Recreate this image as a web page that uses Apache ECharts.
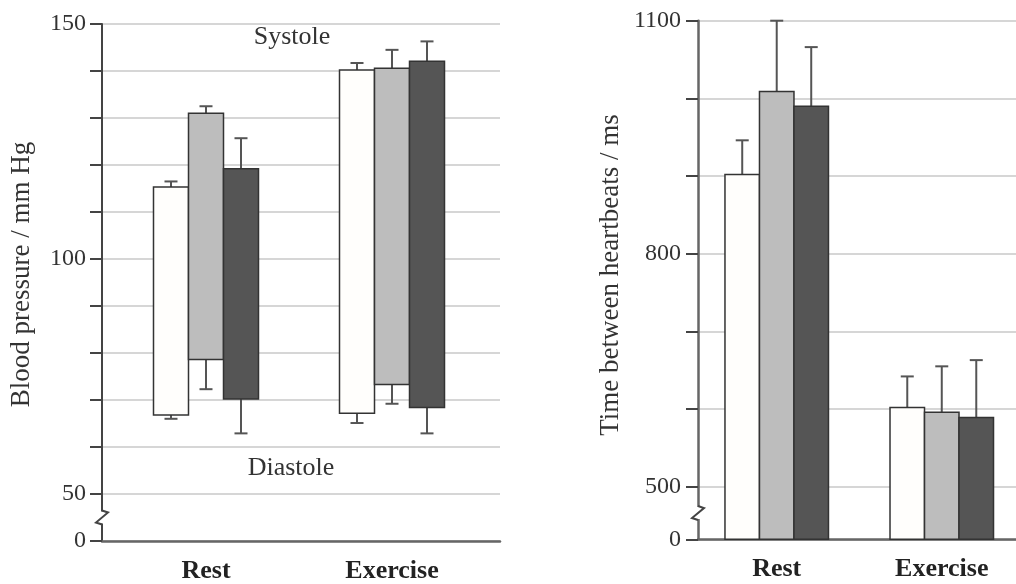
<!DOCTYPE html>
<html>
<head>
<meta charset="utf-8">
<script src="https://cdn.jsdelivr.net/npm/echarts@6/dist/echarts.min.js"></script>
<style>
html,body{margin:0;padding:0;background:#fff;}
#c{width:1016px;height:584px;}
</style>
</head>
<body>
<div id="c"></div>
<script>
// ---------- data ----------
const categories = ['Rest', 'Exercise'];
const groupColors = ['#fffefc', '#bdbdbd', '#555555'];

// Blood pressure (mm Hg): systole / diastole means and error sizes, per group, per category
const sysWhite = [115.3, 140.2];
const sysGray  = [131.0, 140.6];
const sysDark  = [119.2, 142.1];
const sysErrWhite = [1.2, 1.5];
const sysErrGray  = [1.5, 3.9];
const sysErrDark  = [6.5, 4.2];
const diaWhite = [66.8, 67.2];
const diaGray  = [78.6, 73.3];
const diaDark  = [70.2, 68.4];
const diaErrWhite = [0.8, 2.1];
const diaErrGray  = [6.3, 4.1];
const diaErrDark  = [7.3, 5.5];

// Time between heartbeats (ms)
const rrWhite = [902, 602];
const rrGray  = [1009, 596];
const rrDark  = [990, 589];
const rrErrWhite = [44, 40];
const rrErrGray  = [91, 59];
const rrErrDark  = [76, 74];

// axis tick labels
const bpTickValues = [40, 50, 100, 150];
const bpTickLabels = ['0', '50', '100', '150'];
const rrTickValues = [432.3, 500, 800, 1100];
const rrTickLabels = ['0', '500', '800', '1100'];
const rrTickMarks = [432.3, 500, 600, 700, 800, 900, 1000, 1100];

// ---------- layout constants ----------
const FONT = 'Liberation Serif';
const BP_MIN = 40, BP_MAX = 150;
const RR_MIN = 432.3, RR_MAX = 1100;
const BW_L = 35, BW_R = 34.5, CAP = 13;

function bpData(sys, sysE, dia, diaE) {
  return categories.map((c, i) => [i, dia[i], sys[i], dia[i] - diaE[i], sys[i] + sysE[i]]);
}
function rrData(v, e) {
  return categories.map((c, i) => [i, v[i], v[i] + e[i]]);
}

function bpRender(k) {
  return function (params, api) {
    const ci = api.value(0);
    const top = api.coord([ci, api.value(2)]);
    const bot = api.coord([ci, api.value(1)]);
    const eLo = api.coord([ci, api.value(3)]);
    const eHi = api.coord([ci, api.value(4)]);
    const cx = top[0] + (k - 1) * BW_L;
    const es = { stroke: '#555', lineWidth: 2 };
    return {
      type: 'group',
      children: [
        { type: 'line', shape: { x1: cx, y1: top[1], x2: cx, y2: eHi[1] }, style: es },
        { type: 'line', shape: { x1: cx - CAP / 2, y1: eHi[1], x2: cx + CAP / 2, y2: eHi[1] }, style: es },
        { type: 'line', shape: { x1: cx, y1: bot[1], x2: cx, y2: eLo[1] }, style: es },
        { type: 'line', shape: { x1: cx - CAP / 2, y1: eLo[1], x2: cx + CAP / 2, y2: eLo[1] }, style: es },
        { type: 'rect', shape: { x: cx - BW_L / 2, y: top[1], width: BW_L, height: bot[1] - top[1] },
          style: { fill: groupColors[k], stroke: '#333', lineWidth: 1.5 } }
      ]
    };
  };
}
function rrRender(k) {
  return function (params, api) {
    const ci = api.value(0);
    const top = api.coord([ci, api.value(1)]);
    const bot = api.coord([ci, RR_MIN]);
    const eHi = api.coord([ci, api.value(2)]);
    const cx = top[0] + (k - 1) * BW_R;
    const es = { stroke: '#555', lineWidth: 2 };
    return {
      type: 'group',
      children: [
        { type: 'line', shape: { x1: cx, y1: top[1], x2: cx, y2: eHi[1] }, style: es },
        { type: 'line', shape: { x1: cx - CAP / 2, y1: eHi[1], x2: cx + CAP / 2, y2: eHi[1] }, style: es },
        { type: 'rect', shape: { x: cx - BW_R / 2, y: top[1], width: BW_R, height: bot[1] - top[1] },
          style: { fill: groupColors[k], stroke: '#333', lineWidth: 1.5 } }
      ]
    };
  };
}

const chart = echarts.init(document.getElementById('c'), null, { renderer: 'canvas' });

const axisText = { color: '#333', fontFamily: FONT, fontSize: 24 };
const catText = { color: '#222', fontFamily: FONT, fontSize: 26, fontWeight: 'bold' };

const option = {
  animation: false,
  backgroundColor: '#fff',
  grid: [
    { left: 102, top: 24, width: 398, height: 517, outerBoundsMode: 'none', containLabel: false },
    { left: 698, top: 20.7, width: 318, height: 518.6, outerBoundsMode: 'none', containLabel: false }
  ],
  xAxis: [
    {
      gridIndex: 0, type: 'value', min: -0.5591, max: 1.5806,
      axisLine: { show: true, onZero: false, lineStyle: { color: '#666', width: 2.5 } },
      axisTick: { show: false }, splitLine: { show: false },
      axisLabel: { ...catText, margin: 17, customValues: [0, 1], formatter: v => categories[Math.round(v)] }
    },
    {
      gridIndex: 1, type: 'value', min: -0.477, max: 1.4498,
      axisLine: { show: true, onZero: false, lineStyle: { color: '#666', width: 2.5 } },
      axisTick: { show: false }, splitLine: { show: false },
      axisLabel: { ...catText, margin: 17, customValues: [0, 1], formatter: v => categories[Math.round(v)] }
    }
  ],
  yAxis: [
    {
      gridIndex: 0, type: 'value', min: BP_MIN, max: BP_MAX, interval: 10,
      name: 'Blood pressure / mm Hg', nameLocation: 'middle', nameGap: 67,
      nameTextStyle: { color: '#333', fontFamily: FONT, fontSize: 27, padding: [0, 0, 0, 16] },
      axisLine: { show: true, onZero: false, lineStyle: { color: '#444', width: 2 } },
      axisTick: { show: true, length: 12, lineStyle: { color: '#444', width: 2 } },
      splitLine: { show: true, lineStyle: { color: '#d6d6d6', width: 2 } },
      axisLabel: { ...axisText, margin: 16, customValues: bpTickValues,
        formatter: v => bpTickLabels[bpTickValues.indexOf(v)] }
    },
    {
      gridIndex: 1, type: 'value', min: RR_MIN, max: RR_MAX,
      name: 'Time between heartbeats / ms', nameLocation: 'middle', nameGap: 74,
      nameTextStyle: { color: '#333', fontFamily: FONT, fontSize: 27, padding: [0, 0, 0, 10] },
      axisLine: { show: true, onZero: false, lineStyle: { color: '#666', width: 2.5 } },
      axisTick: { show: true, length: 12, customValues: rrTickMarks, lineStyle: { color: '#444', width: 2 } },
      splitLine: { show: true, lineStyle: { color: '#d6d6d6', width: 2 } },
      axisLabel: { ...axisText, margin: 17, customValues: rrTickValues,
        formatter: v => rrTickLabels[rrTickValues.indexOf(v)] }
    }
  ],
  series: [
    { type: 'custom', xAxisIndex: 0, yAxisIndex: 0, renderItem: bpRender(0), data: bpData(sysWhite, sysErrWhite, diaWhite, diaErrWhite) },
    { type: 'custom', xAxisIndex: 0, yAxisIndex: 0, renderItem: bpRender(1), data: bpData(sysGray, sysErrGray, diaGray, diaErrGray) },
    { type: 'custom', xAxisIndex: 0, yAxisIndex: 0, renderItem: bpRender(2), data: bpData(sysDark, sysErrDark, diaDark, diaErrDark) },
    { type: 'custom', xAxisIndex: 1, yAxisIndex: 1, renderItem: rrRender(0), data: rrData(rrWhite, rrErrWhite) },
    { type: 'custom', xAxisIndex: 1, yAxisIndex: 1, renderItem: rrRender(1), data: rrData(rrGray, rrErrGray) },
    { type: 'custom', xAxisIndex: 1, yAxisIndex: 1, renderItem: rrRender(2), data: rrData(rrDark, rrErrDark) }
  ]
};
chart.setOption(option);

// axis-break marks and annotations, placed through the axes
function breakMark(xAxisIndex, yAxisIndex, xv, yv) {
  const x = chart.convertToPixel({ xAxisIndex: xAxisIndex }, xv);
  const y = chart.convertToPixel({ yAxisIndex: yAxisIndex }, yv);
  return [
    { type: 'line', z: 100, shape: { x1: x, y1: y - 6, x2: x, y2: y + 6 }, style: { stroke: '#fff', lineWidth: 4 } },
    { type: 'polyline', z: 101, shape: { points: [[x, y - 7], [x + 6, y - 5], [x - 6, y + 5], [x, y + 7]] },
      style: { stroke: '#444', lineWidth: 2, fill: null } }
  ];
}
const xl = chart.convertToPixel({ xAxisIndex: 0 }, 0.5);
const graphics = []
  .concat(breakMark(0, 0, -0.5591, 45))
  .concat(breakMark(1, 1, -0.477, (500 + RR_MIN) / 2))
  .concat([
    { type: 'text', z: 50, x: xl - 7, y: chart.convertToPixel({ yAxisIndex: 0 }, 147.2),
      style: { text: 'Systole', fill: '#333', font: '26px "Liberation Serif"', textAlign: 'center', textVerticalAlign: 'middle' } },
    { type: 'text', z: 50, x: xl - 8, y: chart.convertToPixel({ yAxisIndex: 0 }, 55.6),
      style: { text: 'Diastole', fill: '#333', font: '26px "Liberation Serif"', textAlign: 'center', textVerticalAlign: 'middle' } }
  ]);
chart.setOption({ graphic: graphics });
</script>
</body>
</html>
